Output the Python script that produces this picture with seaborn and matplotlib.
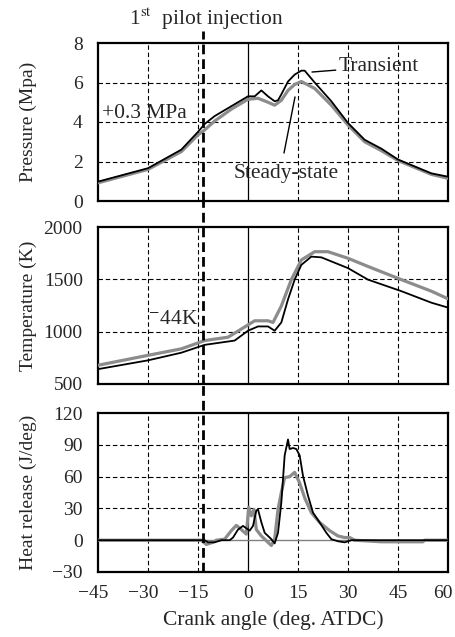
import numpy as np
import pandas as pd
import matplotlib
matplotlib.use("Agg")
import matplotlib.pyplot as plt
import matplotlib.transforms as mtransforms
import seaborn as sns

# ---------------- data ----------------
p_tr_x = [-45, -30, -20, -15, -13, -10, -5, 0, 2, 3, 4, 6, 8, 9, 10, 12, 14, 16, 17, 20, 25, 30, 35, 40, 45, 50, 55, 60]
p_tr_y = [0.98, 1.66, 2.6, 3.5, 3.9, 4.3, 4.8, 5.3, 5.3, 5.45, 5.6, 5.3, 5.05, 5.1, 5.4, 6.05, 6.4, 6.6, 6.6, 6.0, 5.05, 3.95, 3.1, 2.65, 2.1, 1.75, 1.4, 1.23]
p_ss_x = [-45, -30, -20, -15, -13, -10, -5, 0, 3, 6, 8, 10, 12, 14, 16, 20, 25, 30, 35, 40, 45, 50, 55, 60]
p_ss_y = [0.92, 1.6, 2.5, 3.35, 3.6, 4.05, 4.65, 5.15, 5.2, 5.0, 4.85, 5.1, 5.6, 5.9, 6.05, 5.7, 4.85, 3.85, 3.0, 2.55, 2.05, 1.7, 1.35, 1.15]

t_tr_x = [-45, -30, -20, -13, -4, -2, 0, 3, 6, 8, 10, 12, 14, 16, 19, 22, 30, 36, 46, 55, 60]
t_tr_y = [642, 726, 799, 874, 915, 962, 1009, 1050, 1050, 1009, 1088, 1308, 1497, 1638, 1717, 1710, 1607, 1497, 1387, 1277, 1230]
t_ss_x = [-45, -30, -20, -13, -6, -2, 2, 6, 7.5, 10, 13, 16, 20, 24, 30, 36, 46, 55, 60]
t_ss_y = [679, 774, 836, 915, 947, 1025, 1104, 1104, 1088, 1245, 1497, 1685, 1764, 1764, 1701, 1623, 1497, 1387, 1314]

h_tr_x = [-45, -13, -12, -10, -8, -5.5, -4.5, -3, -1.5, 0.5, 1.5, 2.5, 3, 4, 5, 7, 8, 9, 10, 11, 12, 12.5, 13.5, 14.5, 15.5, 16.5, 18, 19.5, 21.5, 23.5, 25, 26, 27, 29, 31, 60]
h_tr_y = [0, 0, -2, -2, 0, 0, 2.5, 10, 13.5, 9, 13.5, 28, 29, 17, 7, 1, -3, 7, 35.5, 80, 95, 86, 87, 86, 80, 60.7, 42, 26, 16.7, 7, 1, 0, -1, -2, 0, 0]
h_ss_x = [-45, -14, -12.5, -10.5, -9.5, -7, -5, -3.5, -2, -0.5, 0.2, 1, 1.8, 2.5, 4, 6, 7, 8, 9, 10, 11, 12.5, 14, 15.5, 17, 19, 21.5, 24.5, 27, 29, 30.5, 32, 40, 52.5, 53, 60]
h_ss_y = [0, 0, -4, -2, 0, 1, 9, 14, 10, 5.7, 31, 23, 29, 10, 4, -2, -5, 1, 29, 45, 59, 60, 64, 54, 40, 26, 16.7, 9, 4, 2.5, 2.5, 0, -1.5, -1.5, 0, 0]

x_ticks = [-45, -30, -15, 0, 15, 30, 45, 60]
p_ticks = [0, 2, 4, 6, 8]
t_ticks = [500, 1000, 1500, 2000]
h_ticks = [-30, 0, 30, 60, 90, 120]
pilot_x = -13.5

# ---------------- style ----------------
sns.set_style("white")
plt.rcParams['font.family'] = ['Liberation Serif', 'DejaVu Serif']
plt.rcParams['mathtext.fontset'] = 'stix'
FS_TXT = 15.5   # horizontal annotation text
FS_YL = 14      # y axis labels
FS_YT = 14      # y tick labels
FS_XT = 14      # x tick labels

fig = plt.figure(figsize=(4.55, 6.37), dpi=100)
L, W = 98 / 455, 350 / 455
ax_p = fig.add_axes([L, 1 - 201 / 637, W, 158 / 637])
ax_t = fig.add_axes([L, 1 - 384 / 637, W, 157 / 637])
ax_h = fig.add_axes([L, 1 - 572 / 637, W, 159 / 637])

def make_df(x1, y1, x2, y2):
    return pd.concat([
        pd.DataFrame({"x": x2, "y": y2, "s": "Steady-state"}),
        pd.DataFrame({"x": x1, "y": y1, "s": "Transient"}),
    ], ignore_index=True)

palette = {"Steady-state": "#8c8c8c", "Transient": "#000000"}
sizes = {"Steady-state": 2.3, "Transient": 1.3}
grid_ls = (0, (4, 2.5))

panels = [
    (ax_p, make_df(p_tr_x, p_tr_y, p_ss_x, p_ss_y), (0, 8), p_ticks, "Pressure (Mpa)"),
    (ax_t, make_df(t_tr_x, t_tr_y, t_ss_x, t_ss_y), (500, 2000), t_ticks, "Temperature (K)"),
    (ax_h, make_df(h_tr_x, h_tr_y, h_ss_x, h_ss_y), (-30, 120), h_ticks, "Heat release (J/deg)"),
]

for ax, df, ylim, yt, ylab in panels:
    ax.set_xlim(-45, 60)
    ax.set_ylim(*ylim)
    ax.set_yticks(yt)
    ax.set_xticks(x_ticks)
    for gx in x_ticks[1:-1]:
        if gx == 0:
            ax.axvline(0, color="black", lw=0.9, zorder=1)
        else:
            ax.axvline(gx, color="black", lw=0.8, ls=grid_ls, zorder=1)
    for gy in yt[1:-1]:
        if ax is ax_h and gy == 0:
            ax.axhline(0, color="#808080", lw=1.0, zorder=1)
        else:
            ax.axhline(gy, color="black", lw=0.8, ls=grid_ls, zorder=1)
    sns.lineplot(data=df, x="x", y="y", hue="s", size="s", palette=palette,
                 sizes=sizes, ax=ax, legend=False, sort=False, estimator=None, zorder=3)
    ax.set_xlabel("")
    ax.set_ylabel(ylab, fontsize=FS_YL)
    ax.yaxis.set_label_coords(-0.175, 0.5)
    ax.tick_params(axis="y", length=0, labelsize=FS_YT, pad=11)
    ax.tick_params(axis="x", length=0, labelsize=FS_XT, pad=9)
    for sp in ax.spines.values():
        sp.set_visible(True)
        sp.set_color("black")
        sp.set_linewidth(1.6)
    if ax is not ax_h:
        ax.set_xticklabels([])

ax_h.set_xlabel("Crank angle (deg. ATDC)", fontsize=FS_TXT, labelpad=6)

# shift x tick labels slightly left (as in the reference)
fig.canvas.draw()
for lbl in ax_h.get_xticklabels():
    txt = lbl.get_text()
    dx = -0.05 if ("−" in txt or txt == "60") else 0.0
    if dx:
        lbl.set_transform(lbl.get_transform() +
                          mtransforms.ScaledTranslation(dx, 0, fig.dpi_scale_trans))

# pilot injection dashed line
dash = (0, (3.5, 1.8))
ax_p.axvline(pilot_x, ymin=0, ymax=1.075, color="black", lw=2.0, ls=dash, clip_on=False, zorder=4)
ax_t.axvline(pilot_x, ymin=0, ymax=1.17, color="black", lw=2.0, ls=dash, clip_on=False, zorder=4)
ax_h.axvline(pilot_x, ymin=0, ymax=1.18, color="black", lw=2.0, ls=dash, clip_on=False, zorder=4)

# annotations
fig.text(129 / 455, 1 - 19 / 637, r"1$^{\mathrm{st}}$  pilot injection", fontsize=FS_TXT,
         ha="left", va="center")
ax_p.text(-43.8, 4.45, "+0.3 MPa", fontsize=FS_TXT, ha="left", va="center", zorder=5)
ax_p.annotate("Transient", xy=(19.2, 6.53), xytext=(27.3, 6.8), fontsize=FS_TXT,
              ha="left", va="center", arrowprops=dict(arrowstyle="-", color="black", lw=1.0,
                                                      shrinkA=0, shrinkB=0))
ax_p.plot([10.8, 14.1], [2.43, 5.27], color="black", lw=1.0, zorder=5)
ax_p.text(11.6, 1.4, "Steady-state", fontsize=FS_TXT, ha="center", va="center", zorder=5)
ax_t.text(-30, 1112, r"$^{-}$44K", fontsize=FS_TXT, ha="left", va="center", zorder=5)

fig.savefig("out.png", dpi=100)
